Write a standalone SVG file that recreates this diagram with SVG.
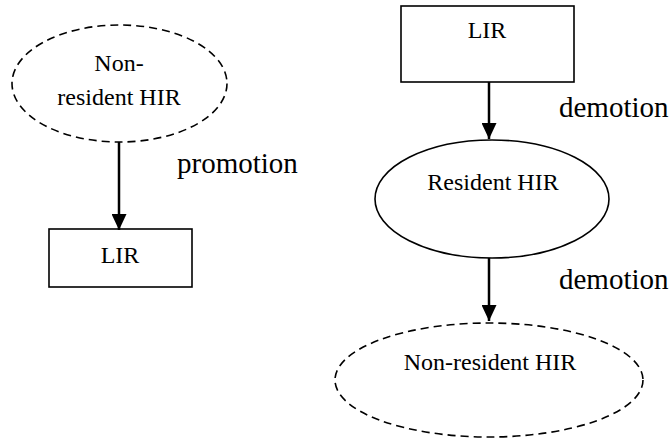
<svg xmlns="http://www.w3.org/2000/svg" width="672" height="443" viewBox="0 0 672 443">
  <style>
    .shape { fill: #ffffff; stroke: #000000; stroke-width: 1.6; }
    .dashed { stroke-dasharray: 8 5; }
    .node-label { font-family: 'Liberation Serif', 'Times New Roman', serif; font-size: 24px; fill: #000000; text-anchor: middle; }
    .edge-label { font-family: 'Liberation Serif', 'Times New Roman', serif; font-size: 29px; fill: #000000; }
    .edge { stroke: #000000; stroke-width: 2.5; fill: none; }
  </style>
  <defs>
    <marker id="arrow" markerUnits="userSpaceOnUse" markerWidth="16" markerHeight="15" refX="16" refY="7.5" orient="auto">
      <path d="M0,0 L16,7.5 L0,15 Z" fill="#000000"/>
    </marker>
  </defs>

  <rect width="672" height="443" fill="#ffffff"/>

  <!-- left chain -->
  <g id="left-nonresident-hir">
    <ellipse class="shape dashed" cx="119.5" cy="83.5" rx="107.5" ry="58.5"/>
    <text class="node-label" x="119" y="71">Non-</text>
    <text class="node-label" x="119" y="105">resident HIR</text>
  </g>
  <g id="left-lir">
    <rect class="shape" x="49" y="229" width="143" height="58"/>
    <text class="node-label" x="120" y="263">LIR</text>
  </g>

  <!-- right chain -->
  <g id="right-lir">
    <rect class="shape" x="401" y="6" width="173" height="76"/>
    <text class="node-label" x="487" y="38">LIR</text>
  </g>
  <g id="resident-hir">
    <ellipse class="shape" cx="492" cy="199" rx="117" ry="59"/>
    <text class="node-label" x="493" y="190">Resident HIR</text>
  </g>
  <g id="right-nonresident-hir">
    <ellipse class="shape dashed" cx="489" cy="380" rx="154" ry="57"/>
    <text class="node-label" x="490" y="370">Non-resident HIR</text>
  </g>

  <g id="connectors">
    <line class="edge" x1="119" y1="142" x2="119" y2="230" marker-end="url(#arrow)"/>
    <line class="edge" x1="489" y1="82" x2="489" y2="139" marker-end="url(#arrow)"/>
    <line class="edge" x1="489" y1="258" x2="489" y2="321" marker-end="url(#arrow)"/>
    <text class="edge-label" x="177" y="173">promotion</text>
    <text class="edge-label" x="559" y="117">demotion</text>
    <text class="edge-label" x="559" y="289">demotion</text>
  </g>
</svg>
